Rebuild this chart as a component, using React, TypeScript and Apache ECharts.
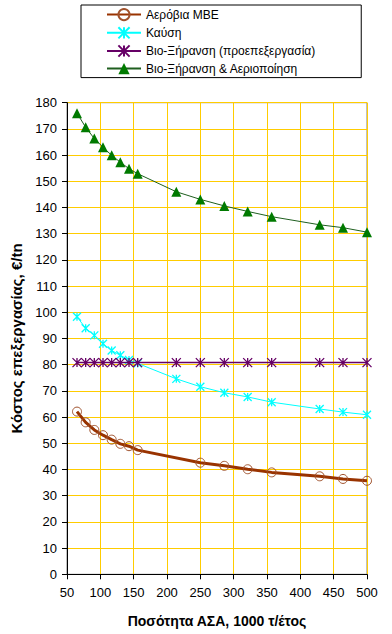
import React, { useEffect, useRef } from "react";
import * as echarts from "echarts";

const xAll = [65, 78, 91, 104, 117, 130, 143, 156, 214, 250, 286, 321, 357, 429, 464, 500];
const xAerobic = [65, 78, 91, 104, 117, 130, 143, 156, 250, 286, 321, 357, 429, 464, 500];

const aerobicMBE = [62.1, 58, 55.1, 53.1, 51.4, 49.8, 48.9, 47.4, 42.6, 41.4, 40.1, 38.9, 37.4, 36.4, 35.7];
const combustion = [98.3, 93.9, 91.2, 88, 85.4, 83.6, 81.8, 80.5, 74.6, 71.6, 69.3, 67.7, 65.7, 63.1, 61.9, 60.9];
const bioDryingPre = [80.8, 80.8, 80.8, 80.8, 80.8, 80.8, 80.8, 80.8, 80.8, 80.8, 80.8, 80.8, 80.8, 80.8, 80.8, 80.8];
const bioDryingGasif = [176, 170.6, 166.3, 163, 159.9, 157.3, 154.8, 152.9, 146, 143.1, 140.6, 138.5, 136.5, 133.4, 132.3, 130.6];

const seriesNames = [
  "Αερόβια ΜΒΕ",
  "Καύση",
  "Βιο-Ξήρανση (προεπεξεργασία)",
  "Βιο-Ξήρανση & Αεριοποίηση",
];

const xAxisName = "Ποσότητα ΑΣΑ, 1000 τ/έτος";
const yAxisName = "Κόστος επεξεργασίας, €/tn";

const pair = (xs: number[], ys: number[]) => xs.map((x, i) => [x, ys[i]]);

const STAR = "path://M0,0L10,10M0,10L10,0M5,0L5,10";
const FONT = "'Liberation Sans', Arial, sans-serif";

export default function App() {
  const ref = useRef<HTMLDivElement>(null);
  useEffect(() => {
    if (!ref.current) return;
    const chart = echarts.init(ref.current, null, { renderer: "svg" });
    chart.setOption({
      animation: false,
      backgroundColor: "#ffffff",
      textStyle: { fontFamily: FONT },
      grid: {
        left: 67,
        right: 25,
        top: 102.7,
        bottom: 59.7,
        show: true,
        borderColor: "#808080",
        borderWidth: 1,
        backgroundColor: "transparent",
      },
      legend: {
        orient: "vertical",
        left: 81,
        top: 5,
        padding: [3, 46, 3, 25],
        itemWidth: 34,
        itemHeight: 14,
        itemGap: 5,
        borderColor: "#000000",
        borderWidth: 1,
        backgroundColor: "#ffffff",
        textStyle: { fontFamily: FONT, fontSize: 12, color: "#000" },
        data: seriesNames,
      },
      xAxis: {
        type: "value",
        min: 50,
        max: 500,
        interval: 50,
        name: xAxisName,
        nameLocation: "middle",
        nameGap: 40,
        nameTextStyle: { fontFamily: FONT, fontSize: 14, fontWeight: "bold", color: "#000" },
        axisLine: { show: true, lineStyle: { color: "#000", width: 1 } },
        axisTick: { show: true, length: 5, lineStyle: { color: "#000" } },
        axisLabel: { fontFamily: FONT, fontSize: 13, color: "#000", margin: 12 },
        splitLine: { show: true, lineStyle: { color: "#FFCC00", width: 1 } },
      },
      yAxis: {
        type: "value",
        min: 0,
        max: 180,
        interval: 10,
        name: yAxisName,
        nameLocation: "middle",
        nameGap: 42,
        nameRotate: 90,
        nameTextStyle: { fontFamily: FONT, fontSize: 15, fontWeight: "bold", color: "#000" },
        axisLine: { show: true, lineStyle: { color: "#000", width: 1 } },
        axisTick: { show: true, length: 5, lineStyle: { color: "#000" } },
        axisLabel: { fontFamily: FONT, fontSize: 13, color: "#000", margin: 10 },
        splitLine: { show: true, lineStyle: { color: "#FFCC00", width: 1 } },
      },
      series: [
        {
          name: seriesNames[0],
          type: "line",
          data: pair(xAerobic, aerobicMBE),
          lineStyle: { color: "#993300", width: 3 },
          symbol: "circle",
          symbolSize: 9,
          itemStyle: { color: "transparent", borderColor: "#A0522D", borderWidth: 1 },
          z: 5,
        },
        {
          name: seriesNames[1],
          type: "line",
          data: pair(xAll, combustion),
          lineStyle: { color: "#00FFFF", width: 1 },
          symbol: STAR,
          symbolSize: 8,
          itemStyle: { color: "#00FFFF", borderColor: "#00FFFF", borderWidth: 1.3 },
          z: 3,
        },
        {
          name: seriesNames[2],
          type: "line",
          data: pair(xAll, bioDryingPre),
          lineStyle: { color: "#660066", width: 1.5 },
          symbol: STAR,
          symbolSize: 9,
          itemStyle: { color: "#660066", borderColor: "#660066", borderWidth: 1.3 },
          z: 4,
        },
        {
          name: seriesNames[3],
          type: "line",
          data: pair(xAll, bioDryingGasif),
          lineStyle: { color: "#1F5F1F", width: 1 },
          symbol: "triangle",
          symbolSize: 10,
          itemStyle: { color: "#007A00", borderColor: "#007A00", borderWidth: 0 },
          z: 3,
        },
      ],
    });
    return () => chart.dispose();
  }, []);
  return (
    <div
      ref={ref}
      style={{ position: "fixed", left: 0, top: 0, width: 392, height: 634, background: "#fff" }}
    />
  );
}
